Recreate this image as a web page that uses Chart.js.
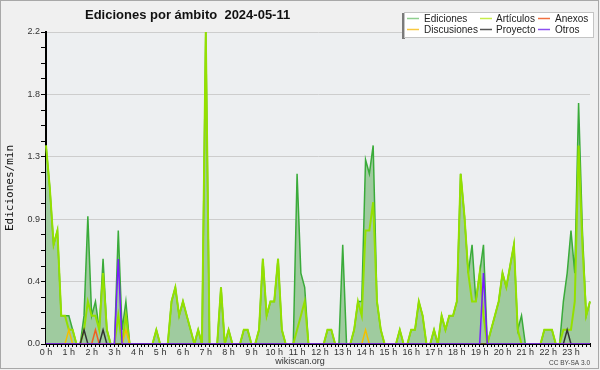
<!DOCTYPE html>
<html>
<head>
<meta charset="utf-8">
<script src="https://cdn.jsdelivr.net/npm/chart.js@4.4.1/dist/chart.umd.min.js"></script>
<style>
html, body { margin: 0; padding: 0; background: #f0f0f0; }
canvas { display: block; }
</style>
</head>
<body>
<canvas id="chart" width="600" height="370"></canvas>
<script>
// hour labels on the x axis (one every 6 ten-minute slots)
const horas = ['0 h', '1 h', '2 h', '3 h', '4 h', '5 h', '6 h', '7 h', '8 h', '9 h', '10 h', '11 h',
    '12 h', '13 h', '14 h', '15 h', '16 h', '17 h', '18 h', '19 h', '20 h', '21 h', '22 h', '23 h'];
const yTickLabels = ['0.0', '0.4', '0.9', '1.3', '1.8', '2.2'];
const yMax = 2.2;

// edits per minute, one value per 10 minutes
const ediciones = [
    1.4, 1.1, 0.7, 0.8, 0.2, 0.2, 0.2, 0.1, 0, 0, 0.2, 0.9,
    0.2, 0.3, 0.1, 0.6, 0.1, 0, 0, 0.8, 0.1, 0.3, 0, 0,
    0, 0, 0, 0, 0, 0.1, 0, 0, 0, 0.3, 0.4, 0.2,
    0.3, 0.2, 0.1, 0, 0.1, 0, 2.2, 0, 0, 0, 0.4, 0,
    0.1, 0, 0, 0, 0.1, 0.1, 0, 0, 0.1, 0.6, 0.2, 0.3,
    0.3, 0.6, 0.1, 0, 0, 0, 1.2, 0.5, 0.4, 0, 0, 0,
    0, 0, 0.1, 0.1, 0, 0, 0.7, 0, 0, 0.1, 0.3, 0.3,
    1.3, 1.2, 1.4, 0.3, 0.1, 0, 0, 0, 0, 0.1, 0, 0,
    0.1, 0.1, 0.3, 0.2, 0, 0, 0.1, 0, 0.2, 0.1, 0.2, 0.2,
    0.3, 1.2, 0.9, 0.5, 0.7, 0.3, 0.5, 0.7, 0, 0.1, 0.2, 0.3,
    0.5, 0.4, 0.55, 0.7, 0.1, 0.2, 0, 0, 0, 0, 0, 0.1,
    0.1, 0.1, 0, 0, 0.3, 0.5, 0.8, 0.5, 1.7, 0.8, 0.2, 0.3
];
const articulos = [
    1.4, 1.1, 0.7, 0.8, 0.2, 0.2, 0.1, 0.1, 0, 0, 0.1, 0.3,
    0.2, 0.2, 0.1, 0.5, 0.1, 0, 0, 0.2, 0, 0.2, 0, 0,
    0, 0, 0, 0, 0, 0.1, 0, 0, 0, 0.3, 0.4, 0.2,
    0.3, 0.2, 0.1, 0, 0.1, 0, 2.2, 0, 0, 0, 0.4, 0,
    0.1, 0, 0, 0, 0.1, 0.1, 0, 0, 0.1, 0.6, 0.2, 0.3,
    0.3, 0.6, 0.1, 0, 0, 0, 0.1, 0.2, 0.3, 0, 0, 0,
    0, 0, 0.1, 0.1, 0, 0, 0, 0, 0, 0.1, 0.3, 0.2,
    0.8, 0.8, 1.0, 0.3, 0.1, 0, 0, 0, 0, 0.1, 0, 0,
    0.1, 0.1, 0.3, 0.2, 0, 0, 0.1, 0, 0.2, 0.1, 0.2, 0.2,
    0.3, 1.2, 0.9, 0.5, 0.3, 0.3, 0.5, 0.2, 0, 0.1, 0.2, 0.3,
    0.5, 0.4, 0.55, 0.7, 0.1, 0, 0, 0, 0, 0, 0, 0.1,
    0.1, 0.1, 0, 0, 0.1, 0.1, 0.1, 0.3, 1.4, 0.7, 0.2, 0.3
];
const anexos = [
    0, 0, 0, 0, 0, 0, 0, 0, 0, 0, 0, 0,
    0, 0.1, 0, 0, 0, 0, 0, 0, 0, 0, 0, 0,
    0, 0, 0, 0, 0, 0, 0, 0, 0, 0, 0, 0,
    0, 0, 0, 0, 0, 0, 0, 0, 0, 0, 0, 0,
    0, 0, 0, 0, 0, 0, 0, 0, 0, 0, 0, 0,
    0, 0, 0, 0, 0, 0, 0, 0, 0, 0, 0, 0,
    0, 0, 0, 0, 0, 0, 0, 0, 0, 0, 0, 0,
    0, 0, 0, 0, 0, 0, 0, 0, 0, 0, 0, 0,
    0, 0, 0, 0, 0, 0, 0, 0, 0, 0, 0, 0,
    0, 0, 0, 0, 0, 0, 0, 0, 0, 0, 0, 0,
    0, 0, 0, 0, 0, 0, 0, 0, 0, 0, 0, 0,
    0, 0, 0, 0, 0, 0, 0, 0, 0, 0, 0, 0
];
const discusiones = [
    0, 0, 0, 0, 0, 0, 0.1, 0, 0, 0, 0, 0,
    0, 0, 0, 0, 0, 0, 0, 0, 0, 0.1, 0, 0,
    0, 0, 0, 0, 0, 0, 0, 0, 0, 0, 0, 0,
    0, 0, 0, 0, 0, 0, 0, 0, 0, 0, 0, 0,
    0, 0, 0, 0, 0, 0, 0, 0, 0, 0, 0, 0,
    0, 0, 0, 0, 0, 0, 0, 0, 0, 0, 0, 0,
    0, 0, 0, 0, 0, 0, 0, 0, 0, 0, 0, 0,
    0.1, 0, 0, 0, 0, 0, 0, 0, 0, 0, 0, 0,
    0, 0, 0, 0, 0, 0, 0, 0, 0, 0, 0, 0,
    0, 0, 0, 0, 0, 0, 0, 0, 0, 0, 0, 0,
    0, 0, 0, 0, 0, 0, 0, 0, 0, 0, 0, 0,
    0, 0, 0, 0, 0, 0, 0, 0, 0, 0, 0, 0
];
const proyecto = [
    0, 0, 0, 0, 0, 0, 0, 0, 0, 0, 0.1, 0,
    0, 0, 0, 0.1, 0, 0, 0, 0, 0, 0, 0, 0,
    0, 0, 0, 0, 0, 0, 0, 0, 0, 0, 0, 0,
    0, 0, 0, 0, 0, 0, 0, 0, 0, 0, 0, 0,
    0, 0, 0, 0, 0, 0, 0, 0, 0, 0, 0, 0,
    0, 0, 0, 0, 0, 0, 0, 0, 0, 0, 0, 0,
    0, 0, 0, 0, 0, 0, 0, 0, 0, 0, 0, 0,
    0, 0, 0, 0, 0, 0, 0, 0, 0, 0, 0, 0,
    0, 0, 0, 0, 0, 0, 0, 0, 0, 0, 0, 0,
    0, 0, 0, 0, 0, 0, 0, 0, 0, 0, 0, 0,
    0, 0, 0, 0, 0, 0, 0, 0, 0, 0, 0, 0,
    0, 0, 0, 0, 0, 0.1, 0, 0, 0, 0, 0, 0
];
const otros = [
    0, 0, 0, 0, 0, 0, 0, 0, 0, 0, 0, 0,
    0, 0, 0, 0, 0, 0, 0, 0.6, 0, 0, 0, 0,
    0, 0, 0, 0, 0, 0, 0, 0, 0, 0, 0, 0,
    0, 0, 0, 0, 0, 0, 0, 0, 0, 0, 0, 0,
    0, 0, 0, 0, 0, 0, 0, 0, 0, 0, 0, 0,
    0, 0, 0, 0, 0, 0, 0, 0, 0, 0, 0, 0,
    0, 0, 0, 0, 0, 0, 0, 0, 0, 0, 0, 0,
    0, 0, 0, 0, 0, 0, 0, 0, 0, 0, 0, 0,
    0, 0, 0, 0, 0, 0, 0, 0, 0, 0, 0, 0,
    0, 0, 0, 0, 0, 0, 0, 0.5, 0, 0, 0, 0,
    0, 0, 0, 0, 0, 0, 0, 0, 0, 0, 0, 0,
    0, 0, 0, 0, 0, 0, 0, 0, 0, 0, 0, 0
];

// category slots: hour name every 6th slot, empty otherwise
const slots = ediciones.map((v, i) => (i % 6 === 0 ? horas[i / 6] : ''));

function serie(label, data, color, legendColor, width, order, extra) {
    return Object.assign({
        label: label,
        data: data,
        borderColor: color,
        legendColor: legendColor,
        borderWidth: width,
        pointRadius: 0,
        tension: 0,
        fill: false,
        order: order,
    }, extra || {});
}

const datasets = [
    serie('Ediciones', ediciones, '#3aab3a', '#8fcf8f', 1.5, 6, { fill: 'origin', backgroundColor: '#9fcb9f' }),
    serie('Artículos', articulos, '#94e000', '#c6ec4a', 2, 5),
    serie('Anexos', anexos, '#f06020', '#f07040', 1.5, 4),
    serie('Discusiones', discusiones, '#f2c000', '#f8c840', 1.5, 3),
    serie('Proyecto', proyecto, '#333333', '#555555', 1.5, 2),
    serie('Otros', otros, '#7a1cff', '#8c50f0', 1.5, 1),
];

// background, title, legend box and footer
const decor = {
    id: 'decor',
    beforeDraw(chart) {
        const { ctx, chartArea: a } = chart;
        ctx.save();
        ctx.fillStyle = '#f0f0f0';
        ctx.fillRect(0, 0, chart.width, chart.height);
        ctx.fillStyle = '#edeff1';
        ctx.fillRect(a.left, a.top, a.right - a.left, a.bottom - a.top);
        ctx.restore();
    },
    afterDraw(chart) {
        const ctx = chart.ctx;
        ctx.save();
        // outer frame
        ctx.strokeStyle = '#a8a8a8';
        ctx.lineWidth = 1;
        ctx.strokeRect(0.5, 0.5, 598, 368);

        // title
        ctx.fillStyle = '#111';
        ctx.font = 'bold 13px "Liberation Sans", Arial, sans-serif';
        ctx.textAlign = 'left';
        ctx.textBaseline = 'alphabetic';
        ctx.fillText('Ediciones por ámbito  2024-05-11', 85, 18.5);

        // legend box
        ctx.fillStyle = '#7a7a7a';
        ctx.fillRect(402, 13, 3, 26);
        ctx.fillStyle = '#ffffff';
        ctx.fillRect(404, 12, 190, 26);
        ctx.strokeStyle = '#c4c4c4';
        ctx.strokeRect(404.5, 12.5, 189, 25);

        const colSwatch = [407, 480, 538];
        const colText = [424, 496, 555];
        const rowY = [18.5, 29.5];
        ctx.font = '10px "Liberation Sans", Arial, sans-serif';
        ctx.textBaseline = 'middle';
        chart.data.datasets.forEach((ds, i) => {
            const c = i % 3, r = Math.floor(i / 3);
            ctx.strokeStyle = ds.legendColor;
            ctx.lineWidth = 1.5;
            ctx.beginPath();
            ctx.moveTo(colSwatch[c], rowY[r]);
            ctx.lineTo(colSwatch[c] + 12, rowY[r]);
            ctx.stroke();
            ctx.fillStyle = '#222';
            ctx.fillText(ds.label, colText[c], rowY[r] + 0.5);
        });

        // footer
        ctx.textBaseline = 'alphabetic';
        ctx.fillStyle = '#333';
        ctx.font = '9px "Liberation Sans", Arial, sans-serif';
        ctx.textAlign = 'center';
        ctx.fillText('wikiscan.org', 300, 364);
        ctx.font = '6.5px "Liberation Sans", Arial, sans-serif';
        ctx.textAlign = 'right';
        ctx.fillStyle = '#444';
        ctx.fillText('CC BY-SA 3.0', 590, 364.5);
        ctx.restore();
    }
};

const tickFont = { family: '"Liberation Sans", Arial, sans-serif', size: 9 };

new Chart(document.getElementById('chart').getContext('2d'), {
    type: 'line',
    data: { labels: slots, datasets: datasets },
    options: {
        responsive: false,
        animation: false,
        layout: { padding: { top: 32, right: 10, left: 0, bottom: 0 } },
        plugins: {
            legend: { display: false },
            tooltip: { enabled: false },
        },
        scales: {
            x: {
                type: 'category',
                offset: false,
                z: 1,
                border: { color: '#000', width: 2 },
                grid: { drawOnChartArea: false, drawTicks: true, tickLength: 3, tickColor: '#000', tickWidth: 1 },
                ticks: { autoSkip: false, maxRotation: 0, minRotation: 0, padding: 0, color: '#333', font: tickFont },
                afterFit: s => { s.height = 26; },
            },
            y: {
                min: 0,
                max: yMax,
                border: { color: '#000', width: 2 },
                grid: {
                    color: c => (c.index % 4 === 0 ? '#cdcdcd' : 'rgba(0,0,0,0)'),
                    tickColor: '#000',
                    tickLength: 5,
                },
                ticks: {
                    padding: 1,
                    color: '#333',
                    font: tickFont,
                    callback: (v, i) => (i % 4 === 0 ? yTickLabels[i / 4] : ''),
                },
                afterBuildTicks: s => {
                    const t = [];
                    for (let k = 0; k <= 20; k++) t.push({ value: yMax * k / 20 });
                    s.ticks = t;
                },
                title: {
                    display: true,
                    text: 'Ediciones/min',
                    color: '#111',
                    font: { family: '"DejaVu Sans Mono", monospace', size: 11 },
                    padding: { top: 4, bottom: 4 },
                },
                afterFit: s => { s.width = 46; },
            },
        },
    },
    plugins: [decor],
});
</script>
</body>
</html>
